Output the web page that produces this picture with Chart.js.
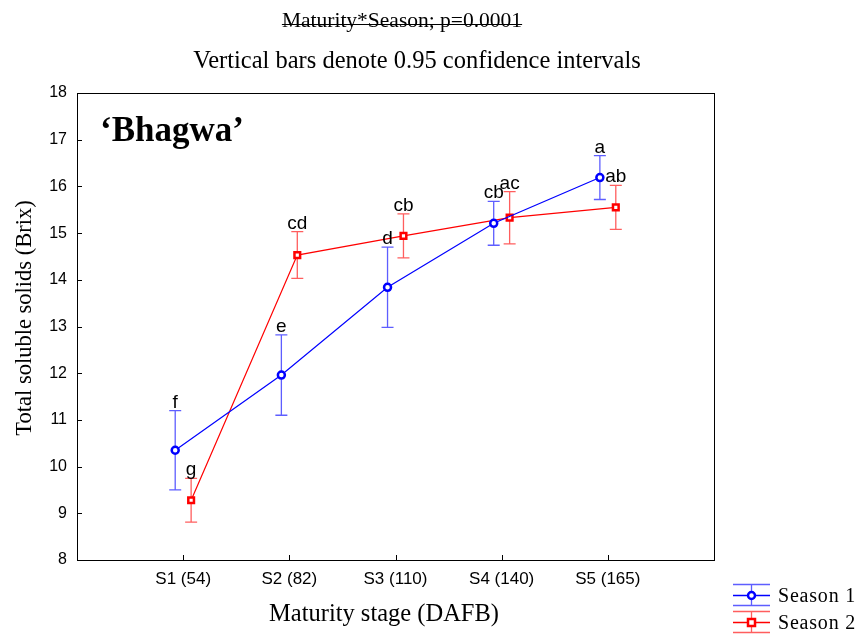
<!DOCTYPE html>
<html>
<head>
<meta charset="utf-8">
<script src="https://cdn.jsdelivr.net/npm/chart.js@4.4.1/dist/chart.umd.min.js"></script>
<style>
  html, body { margin: 0; padding: 0; background: #ffffff; }
  #wrap { width: 861px; height: 639px; }
</style>
</head>
<body>
<div id="wrap"><canvas id="c" width="861" height="639"></canvas></div>
<script>
// Maturity stages (days after full bloom)
const stages = ['S1 (54)', 'S2 (82)', 'S3 (110)', 'S4 (140)', 'S5 (165)'];

// Total soluble solids (°Brix), means and 0.95 CI half-widths
const season1Mean = [10.35, 11.96, 13.84, 15.21, 16.19];
const season1CI   = [0.85, 0.86, 0.86, 0.47, 0.47];
const season2Mean = [9.28, 14.53, 14.94, 15.33, 15.55];
const season2CI   = [0.47, 0.50, 0.47, 0.56, 0.47];

// Mean separation letters
const season1Letters = ['f', 'e', 'd', 'cb', 'a'];
const season2Letters = ['g', 'cd', 'cb', 'ac', 'ab'];

const yTicks = [8, 9, 10, 11, 12, 13, 14, 15, 16, 17, 18];

const BLUE = '#0000ff';
const RED = '#ff0000';
const BLUE_BAR = 'rgba(40,40,255,0.75)';
const RED_BAR = 'rgba(255,40,40,0.75)';
const SERIF = '"Liberation Serif", "Times New Roman", serif';
const SANS = '"Liberation Sans", Arial, sans-serif';

const SHIFT = 0.075; // horizontal dodge between seasons

function points(means, dx) {
  return means.map((v, i) => ({ x: i + 1 + dx, y: v }));
}

const seriesMeta = [
  { means: season1Mean, ci: season1CI, letters: season1Letters, bar: BLUE_BAR },
  { means: season2Mean, ci: season2CI, letters: season2Letters, bar: RED_BAR }
];

function spaced(ctx, text, x, y, spacing) {
  ctx.save();
  ctx.letterSpacing = spacing + 'px';
  ctx.fillText(text, x, y);
  ctx.restore();
}

const decorPlugin = {
  id: 'decor',
  beforeDatasetsDraw(chart) {
    const ctx = chart.ctx;
    const ys = chart.scales.y;
    // confidence interval whiskers
    seriesMeta.forEach((s, di) => {
      const meta = chart.getDatasetMeta(di);
      ctx.save();
      ctx.strokeStyle = s.bar;
      ctx.lineWidth = 1.3;
      s.means.forEach((m, i) => {
        const px = meta.data[i].x;
        const top = ys.getPixelForValue(m + s.ci[i]);
        const bot = ys.getPixelForValue(m - s.ci[i]);
        ctx.beginPath();
        ctx.moveTo(px, top); ctx.lineTo(px, bot);
        ctx.moveTo(px - 6, top); ctx.lineTo(px + 6, top);
        ctx.moveTo(px - 6, bot); ctx.lineTo(px + 6, bot);
        ctx.stroke();
      });
      ctx.restore();
    });
  },
  afterDraw(chart) {
    const ctx = chart.ctx;
    const a = chart.chartArea;
    const xs = chart.scales.x, ys = chart.scales.y;
    ctx.save();
    // frame
    ctx.strokeStyle = '#000';
    ctx.lineWidth = 1;
    ctx.strokeRect(Math.round(a.left) + 0.5, Math.round(a.top) + 0.5,
      Math.round(a.right - a.left), Math.round(a.bottom - a.top));
    // inside tick marks
    ctx.beginPath();
    yTicks.forEach(v => {
      const py = Math.round(ys.getPixelForValue(v)) + 0.5;
      ctx.moveTo(a.left, py); ctx.lineTo(a.left + 5, py);
    });
    stages.forEach((_, i) => {
      const px = Math.round(xs.getPixelForValue(i + 1)) + 0.5;
      ctx.moveTo(px, a.bottom); ctx.lineTo(px, a.bottom - 5);
    });
    ctx.stroke();

    // significance letters
    ctx.fillStyle = '#000';
    ctx.font = '19px ' + SANS;
    ctx.textAlign = 'center';
    ctx.textBaseline = 'alphabetic';
    seriesMeta.forEach((s, di) => {
      const meta = chart.getDatasetMeta(di);
      s.letters.forEach((t, i) => {
        const px = meta.data[i].x;
        const top = ys.getPixelForValue(s.means[i] + s.ci[i]);
        ctx.fillText(t, px, top - 3);
      });
    });

    // titles
    ctx.font = '21.5px ' + SERIF;
    const t1 = 'Maturity*Season; p=0.0001';
    const w1 = ctx.measureText(t1).width;
    ctx.fillText(t1, 402, 27);
    ctx.beginPath();
    ctx.moveTo(402 - w1 / 2, 24.5); ctx.lineTo(402 + w1 / 2, 24.5);
    ctx.stroke();
    ctx.font = '24.5px ' + SERIF;
    ctx.fillText('Vertical bars denote 0.95 confidence intervals', 417, 68);

    // cultivar name
    ctx.font = 'bold 35px ' + SERIF;
    ctx.textAlign = 'left';
    ctx.fillText('\u2018Bhagwa\u2019', 100, 141);

    // axis titles
    ctx.textAlign = 'center';
    ctx.font = '24.5px ' + SERIF;
    ctx.fillText('Maturity stage (DAFB)', 384, 621);
    ctx.save();
    ctx.translate(31, 318);
    ctx.rotate(-Math.PI / 2);
    ctx.font = '22.5px ' + SERIF;
    ctx.fillText('Total soluble solids (Brix)', 0, 0);
    ctx.restore();

    // legend
    const items = [
      { label: 'Season 1', color: BLUE, bar: BLUE_BAR, style: 'circle', y: 595 },
      { label: 'Season 2', color: RED, bar: RED_BAR, style: 'rect', y: 622 }
    ];
    items.forEach(it => {
      const x0 = 733, x1 = 770, cx = 751.5;
      ctx.strokeStyle = it.bar;
      ctx.lineWidth = 1.3;
      ctx.beginPath();
      ctx.moveTo(x0, it.y - 10.5); ctx.lineTo(x1, it.y - 10.5);
      ctx.moveTo(x0, it.y + 10.5); ctx.lineTo(x1, it.y + 10.5);
      ctx.moveTo(cx, it.y - 10.5); ctx.lineTo(cx, it.y + 10.5);
      ctx.stroke();
      ctx.strokeStyle = it.color;
      ctx.beginPath();
      ctx.moveTo(x0, it.y + 0.5); ctx.lineTo(x1, it.y + 0.5);
      ctx.stroke();
      ctx.fillStyle = '#fff';
      ctx.lineWidth = 2.5;
      ctx.beginPath();
      if (it.style === 'circle') ctx.arc(cx, it.y + 0.5, 3.5, 0, Math.PI * 2);
      else ctx.rect(cx - 3.5, it.y - 3, 7, 7);
      ctx.fill(); ctx.stroke();
      ctx.fillStyle = '#000';
      ctx.font = '20px ' + SERIF;
      ctx.textAlign = 'left';
      spaced(ctx, it.label, 778, it.y + 7, 0.8);
    });
    ctx.restore();
  }
};

new Chart(document.getElementById('c'), {
  type: 'line',
  data: {
    datasets: [
      {
        label: 'Season 1',
        data: points(season1Mean, -SHIFT),
        borderColor: BLUE,
        borderWidth: 1.2,
        pointStyle: 'circle',
        pointRadius: 3.5,
        pointBorderWidth: 2.5,
        pointBorderColor: BLUE,
        pointBackgroundColor: '#fff',
        tension: 0
      },
      {
        label: 'Season 2',
        data: points(season2Mean, SHIFT),
        borderColor: RED,
        borderWidth: 1.2,
        pointStyle: 'rect',
        pointRadius: 4,
        pointBorderWidth: 2.5,
        pointBorderColor: RED,
        pointBackgroundColor: '#fff',
        tension: 0
      }
    ]
  },
  options: {
    responsive: false,
    animation: false,
    events: [],
    layout: { padding: { left: 0, top: 93, right: 147, bottom: 0 } },
    plugins: { legend: { display: false }, tooltip: { enabled: false }, title: { display: false } },
    scales: {
      x: {
        type: 'linear',
        min: 0,
        max: 6,
        afterFit(s) { s.height = 79; },
        afterBuildTicks(s) { s.ticks = stages.map((_, i) => ({ value: i + 1 })); },
        grid: { display: false, drawTicks: false },
        border: { display: false },
        ticks: {
          autoSkip: false,
          maxRotation: 0,
          padding: 9,
          color: '#000',
          font: { family: SANS, size: 17 },
          callback: v => stages[v - 1] ?? ''
        }
      },
      y: {
        min: 8,
        max: 18,
        afterFit(s) { s.width = 77; },
        afterBuildTicks(s) { s.ticks = yTicks.map(v => ({ value: v })); },
        grid: { display: false, drawTicks: false },
        border: { display: false },
        ticks: {
          padding: 10,
          color: '#000',
          font: { family: SANS, size: 16 }
        }
      }
    }
  },
  plugins: [decorPlugin]
});
</script>
</body>
</html>
